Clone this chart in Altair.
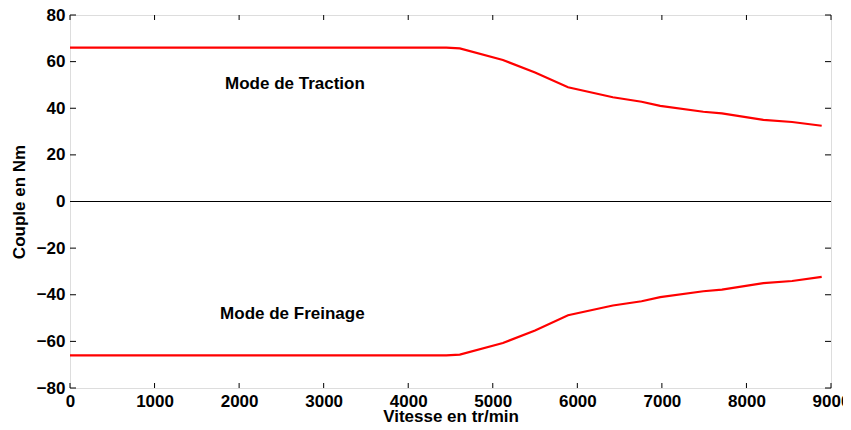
import altair as alt
import pandas as pd

# Data
speed_traction = [0, 4450, 4610, 5120, 5500, 5890, 6420, 6760, 6980, 7490, 7710, 8200, 8540, 8890]
torque_traction = [66, 66, 65.7, 60.7, 55.3, 49.0, 44.7, 42.8, 41.0, 38.5, 37.8, 35.0, 34.1, 32.5]
speed_freinage = [0, 4450, 4610, 5120, 5500, 5890, 6420, 6760, 6980, 7490, 7710, 8200, 8540, 8890]
torque_freinage = [-66, -66, -65.7, -60.7, -55.3, -48.8, -44.6, -42.8, -41.0, -38.5, -37.8, -35.0, -34.1, -32.3]

x_ticks = [0, 1000, 2000, 3000, 4000, 5000, 6000, 7000, 8000, 9000]
y_ticks = [-80, -60, -40, -20, 0, 20, 40, 60, 80]

label_texts = ["Mode de Traction", "Mode de Freinage"]
label_x = [2660, 2630]
label_y = [50.4, -48.3]

W, H = 761, 373
FONT = "Liberation Sans"
FS = 17

df = pd.concat([
    pd.DataFrame({"speed": speed_traction, "torque": torque_traction, "mode": "Traction"}),
    pd.DataFrame({"speed": speed_freinage, "torque": torque_freinage, "mode": "Freinage"}),
])

xs = alt.Scale(domain=[0, 9000], nice=False, zero=False)
ys = alt.Scale(domain=[-80, 80], nice=False)

x_axis = alt.Axis(values=x_ticks, title="Vitesse en tr/min", format="d", ticks=False, domain=False,
                  grid=False, labelFont=FONT, labelFontSize=FS, labelFontWeight="bold",
                  labelColor="black", labelPadding=5, titleFont=FONT, titleFontSize=FS,
                  titleFontWeight="bold", titleColor="black", titlePadding=-1, labelFlush=False)
y_axis = alt.Axis(values=y_ticks, title="Couple en Nm", ticks=False, domain=False, grid=False,
                  labelFont=FONT, labelFontSize=FS, labelFontWeight="bold", labelColor="black",
                  labelPadding=5, titleFont=FONT, titleFontSize=FS, titleFontWeight="bold",
                  titleColor="black", titlePadding=8, labelFlush=False)

lines = alt.Chart(df).mark_line(color="#ff0000", strokeWidth=2.2).encode(
    x=alt.X("speed:Q", scale=xs, axis=x_axis),
    y=alt.Y("torque:Q", scale=ys, axis=y_axis),
    detail="mode:N",
)

zero = alt.Chart(pd.DataFrame({"z": [0]})).mark_rule(color="black", strokeWidth=1).encode(
    y=alt.Y("z:Q", scale=ys), x=alt.value(0), x2=alt.value(W))

xt = pd.DataFrame({"v": x_ticks})
yt = pd.DataFrame({"v": y_ticks})
tick_style = dict(color="black", strokeWidth=1)
xb = alt.Chart(xt).mark_rule(**tick_style).encode(x=alt.X("v:Q", scale=xs), y=alt.value(H), y2=alt.value(H - 5))
xtp = alt.Chart(xt).mark_rule(**tick_style).encode(x=alt.X("v:Q", scale=xs), y=alt.value(0), y2=alt.value(5))
yl = alt.Chart(yt).mark_rule(**tick_style).encode(y=alt.Y("v:Q", scale=ys), x=alt.value(0), x2=alt.value(6))
yr = alt.Chart(yt).mark_rule(**tick_style).encode(y=alt.Y("v:Q", scale=ys), x=alt.value(W - 6), x2=alt.value(W))

labels = alt.Chart(pd.DataFrame({"t": label_texts, "x": label_x, "y": label_y})).mark_text(
    font=FONT, fontSize=17, fontWeight="bold", color="black", align="center", baseline="middle"
).encode(x=alt.X("x:Q", scale=xs), y=alt.Y("y:Q", scale=ys), text="t:N")

chart = alt.layer(zero, xb, xtp, yl, yr, lines, labels).properties(
    width=W, height=H, autosize=alt.AutoSizeParams(type="none"),
    padding={"left": 62, "top": 7, "right": 12, "bottom": 34},
).configure_view(stroke="black", strokeWidth=1.2).configure(background="white")

chart.save("out.html", embed_options={"renderer": "svg", "actions": False})
